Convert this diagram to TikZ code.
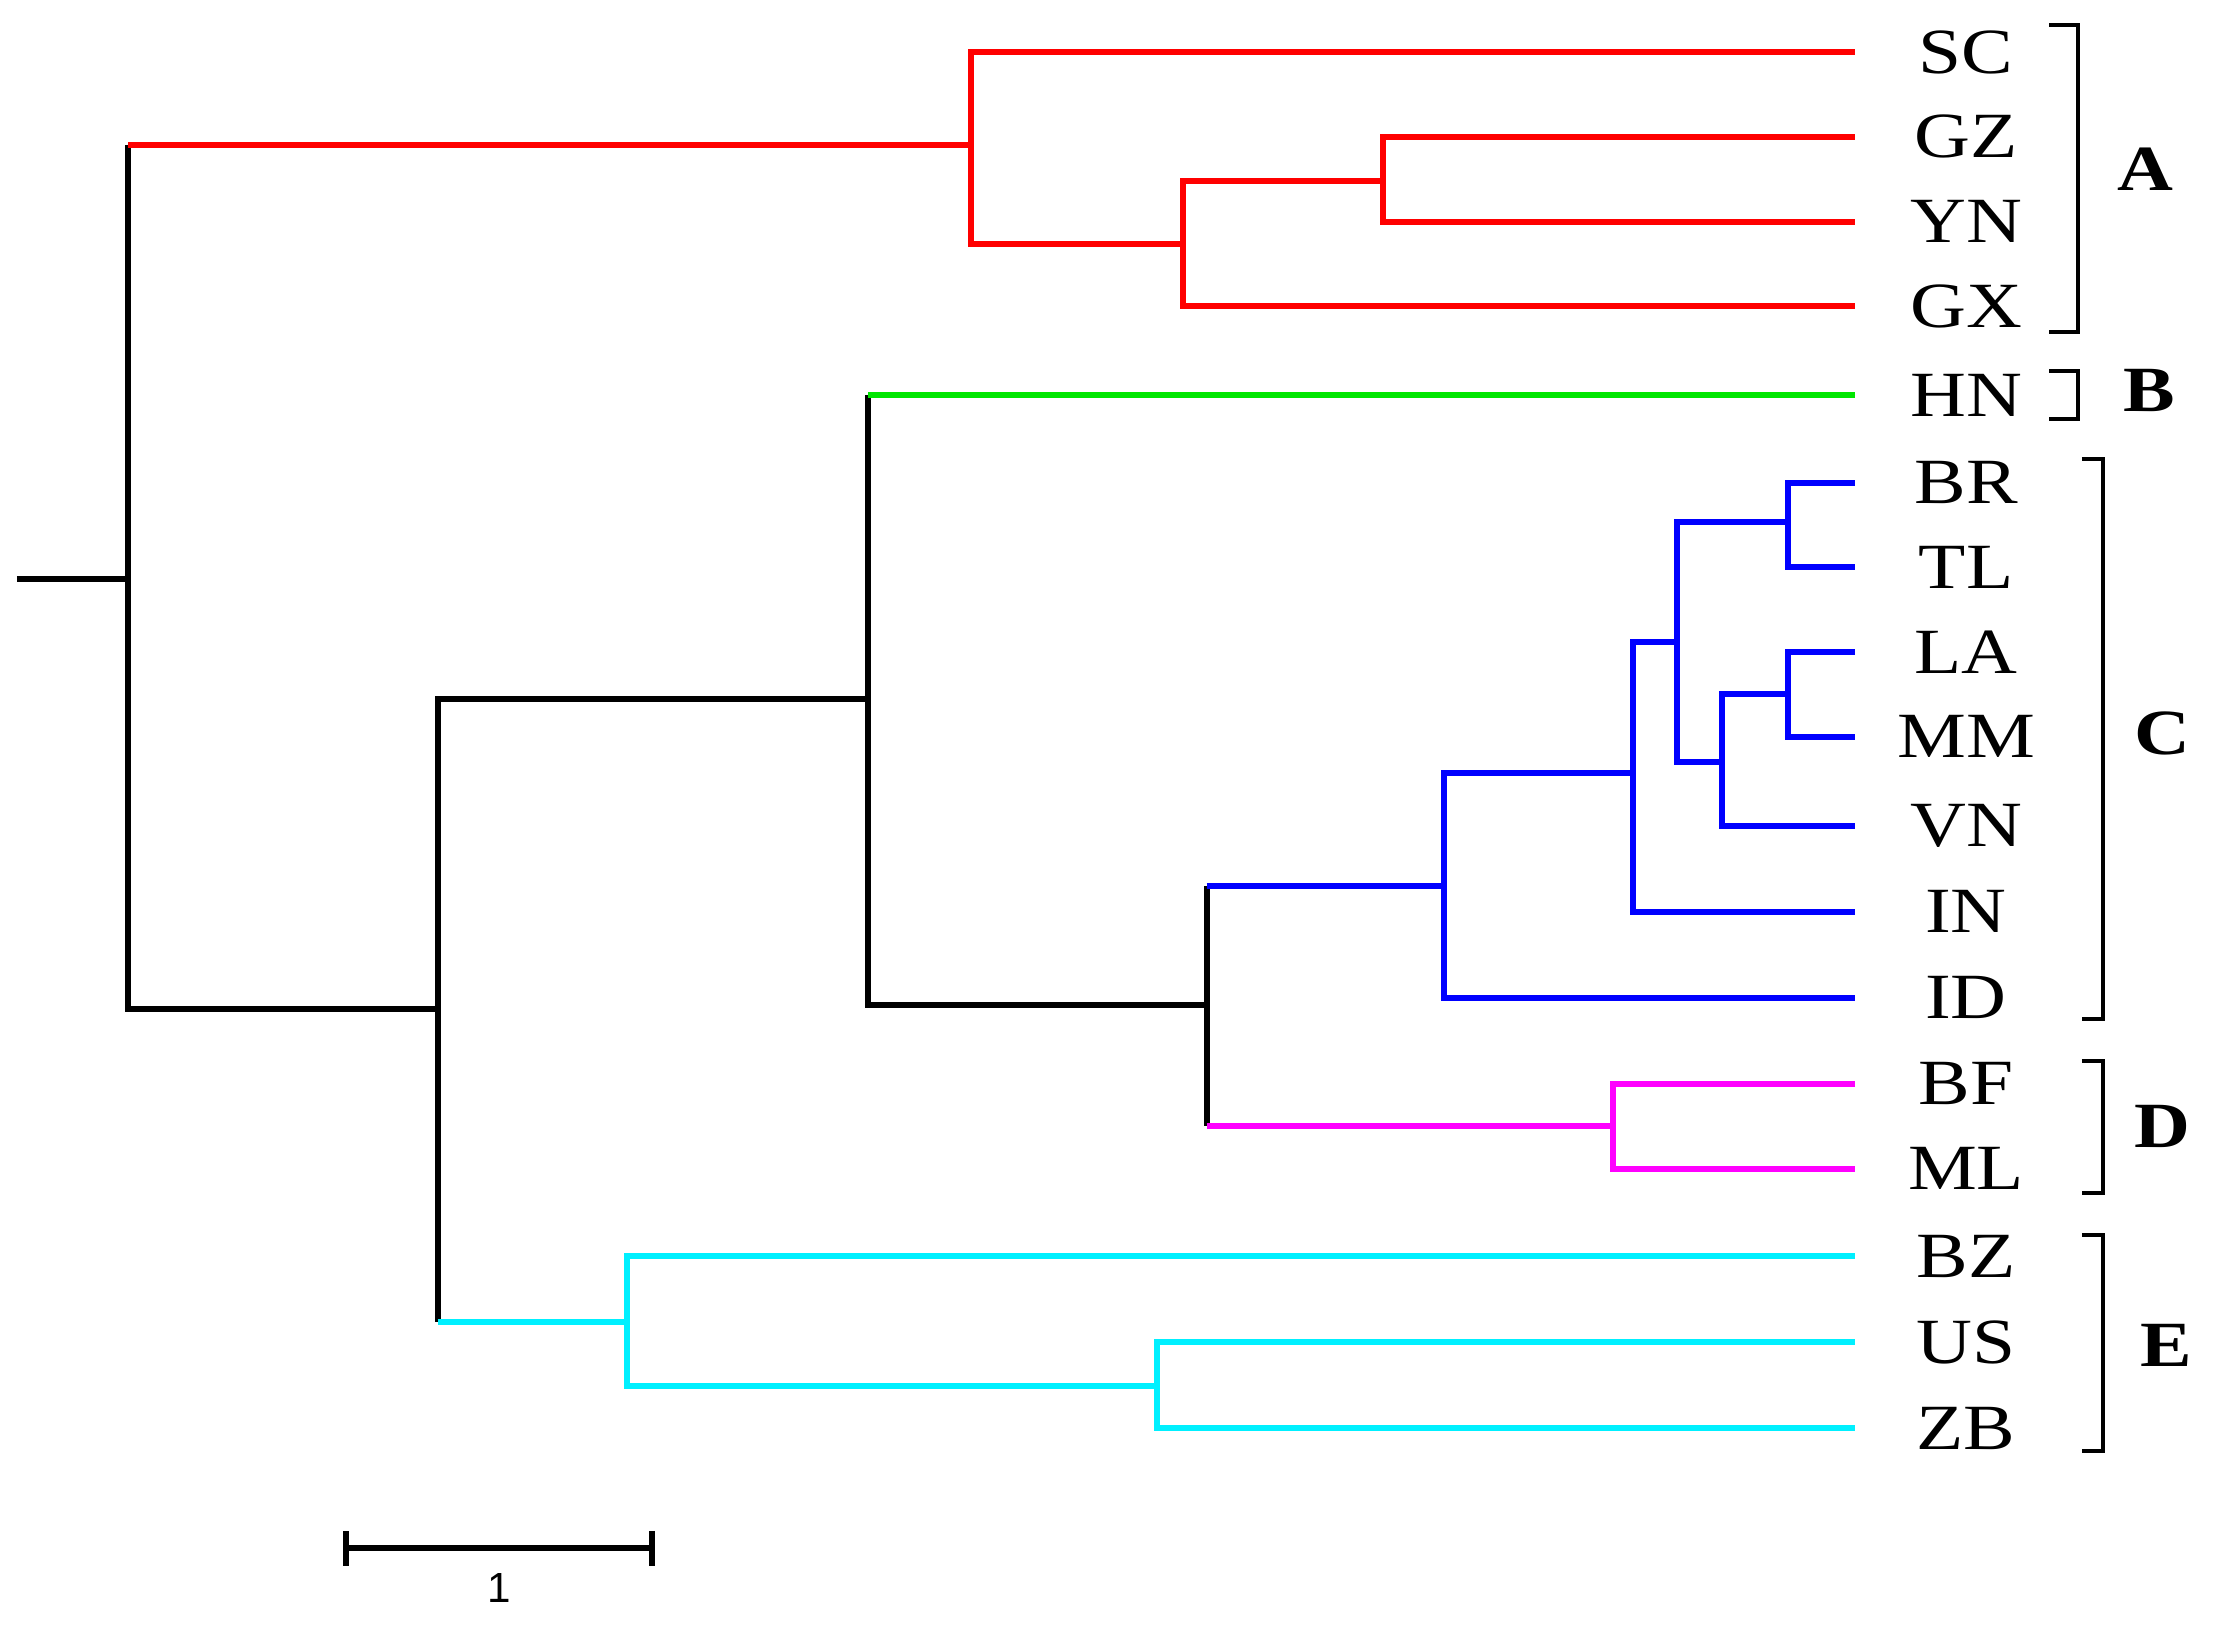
\documentclass[tikz,border=0pt]{standalone}
\usepackage{fontspec}
\setmainfont{Liberation Serif}
\setsansfont{Liberation Sans}
\usetikzlibrary{arrows.meta}
\definecolor{treered}{RGB}{255,0,0}
\definecolor{treegreen}{RGB}{0,230,0}
\definecolor{treeblue}{RGB}{0,0,255}
\definecolor{treemagenta}{RGB}{255,0,255}
\definecolor{treecyan}{RGB}{0,240,255}

\begin{document}
\begin{tikzpicture}[x=0.02cm, y=-0.02cm,
    branch/.style={line width=2.4pt},
    leaf/.style={font=\fontsize{26}{30}\selectfont, xscale=1.2, inner sep=0pt},
    group/.style={font=\fontsize{26}{30}\selectfont\bfseries, xscale=1.2, inner sep=0pt},
    clade/.style={line width=1.6pt, line join=miter},
    scalebar/.style={line width=2.4pt, {Bar[width=14pt]}-{Bar[width=14pt]}}
]
\useasboundingbox (0,0) rectangle (1568,1151);

% leaf tips and labels
\foreach \name/\y in {SC/37, GZ/97, YN/157, GX/217, HN/280, BR/342, TL/402, LA/462,
                      MM/522, VN/585, IN/646, ID/707, BF/768, ML/828, BZ/890, US/951, ZB/1012} {
  \coordinate (\name) at (1314,\y);
  \node[leaf] (l\name) at (1393,\y) {\name};
}

% internal nodes
\coordinate (base) at (12,410);
\coordinate (root) at (91,410);
\coordinate (a1) at (688,103);
\coordinate (a2) at (838,173);
\coordinate (a3) at (980,128);
\coordinate (k1) at (310,715);
\coordinate (k2) at (615,495);
\coordinate (k3) at (855,712);
\coordinate (c1) at (1023,628);
\coordinate (c2) at (1157,548);
\coordinate (c3) at (1188,455);
\coordinate (c4) at (1267,370);
\coordinate (c5) at (1220,540);
\coordinate (c6) at (1267,492);
\coordinate (d1) at (1143,798);
\coordinate (e1) at (444,937);
\coordinate (e2) at (820,982);

% backbone
\draw[branch] (base) -- (root);
\draw[branch] (root |- a1) -- (root |- k1) -- (k1);
\draw[branch, treered] (root |- a1) -- (a1);
\draw[branch] (k2) -| (k1) -- (k1 |- e1);
\draw[branch, treecyan] (k1 |- e1) -- (e1);
\draw[branch] (k2 |- HN) -- (k2 |- k3) -- (k3);
\draw[branch, treegreen] (k2 |- HN) -- (HN);
\draw[branch] (k3 |- c1) -- (k3 |- d1);
\draw[branch, treeblue] (k3 |- c1) -- (c1);
\draw[branch, treemagenta] (k3 |- d1) -- (d1);

% group A
\draw[branch, treered] (SC) -| (a1) |- (a2);
\draw[branch, treered] (a3) -| (a2) |- (GX);
\draw[branch, treered] (GZ) -| (a3) |- (YN);

% group C
\draw[branch, treeblue] (c2) -| (c1) |- (ID);
\draw[branch, treeblue] (c3) -| (c2) |- (IN);
\draw[branch, treeblue] (c4) -| (c3) |- (c5);
\draw[branch, treeblue] (BR) -| (c4) |- (TL);
\draw[branch, treeblue] (c6) -| (c5) |- (VN);
\draw[branch, treeblue] (LA) -| (c6) |- (MM);

% group D
\draw[branch, treemagenta] (BF) -| (d1) |- (ML);

% group E
\draw[branch, treecyan] (BZ) -| (e1) |- (e2);
\draw[branch, treecyan] (US) -| (e2) |- (ZB);

% clade brackets
\coordinate (bA1) at (1472,18);   \coordinate (bA2) at (1472,235);
\coordinate (bB1) at (1472,263);  \coordinate (bB2) at (1472,297);
\coordinate (bC1) at (1490,325);  \coordinate (bC2) at (1490,722);
\coordinate (bD1) at (1490,752);  \coordinate (bD2) at (1490,845);
\coordinate (bE1) at (1490,875);  \coordinate (bE2) at (1490,1028);
\draw[clade] (bA1) ++(-20,0) -- (bA1) -- (bA2) -- ++(-20,0);
\draw[clade] (bB1) ++(-20,0) -- (bB1) -- (bB2) -- ++(-20,0);
\draw[clade] (bC1) ++(-15,0) -- (bC1) -- (bC2) -- ++(-15,0);
\draw[clade] (bD1) ++(-15,0) -- (bD1) -- (bD2) -- ++(-15,0);
\draw[clade] (bE1) ++(-15,0) -- (bE1) -- (bE2) -- ++(-15,0);

\node[group] (gA) at (1520,120) {A};
\node[group] (gB) at (1523,277) {B};
\node[group] (gC) at (1532,520) {C};
\node[group] (gD) at (1532,798) {D};
\node[group] (gE) at (1535,953) {E};

% scale bar
\coordinate (s0) at (243,1097);
\coordinate (s1) at (464,1097);
\draw[scalebar] (s0) -- (s1);
\node[font=\sffamily\fontsize{17}{20}\selectfont, inner sep=0pt] (unit) at (354,1125) {1};

\end{tikzpicture}
\end{document}
